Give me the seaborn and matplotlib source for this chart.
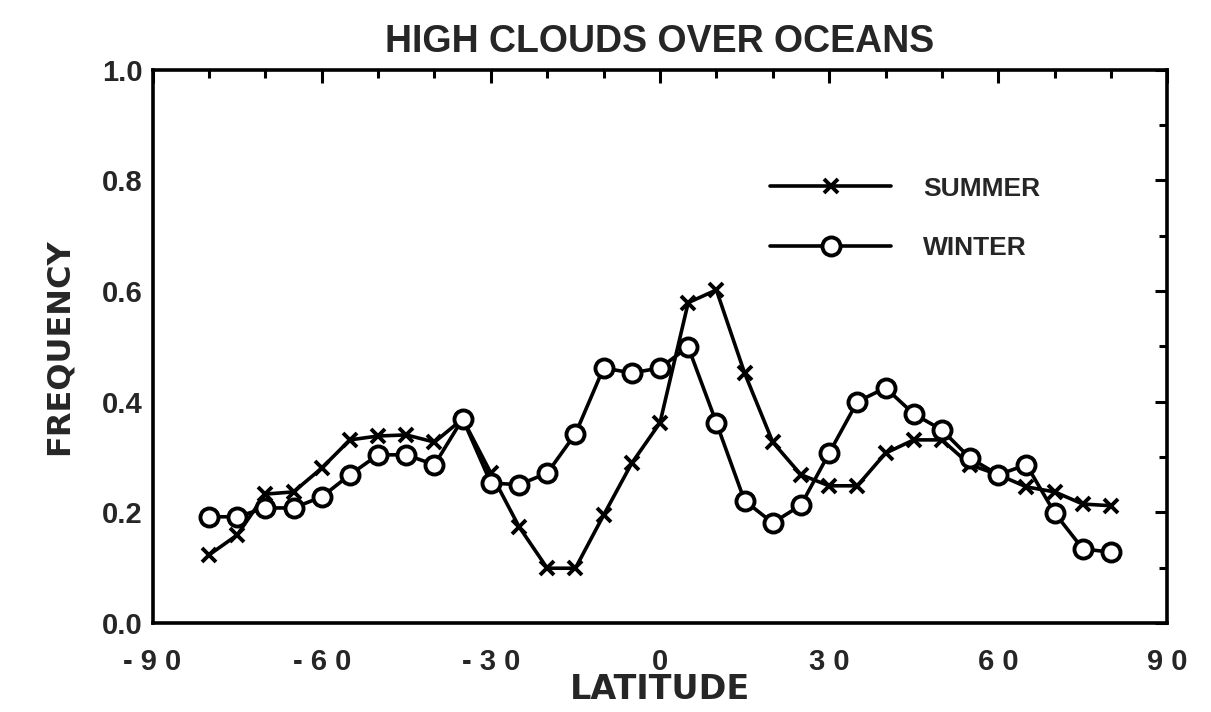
import matplotlib
matplotlib.use("Agg")
import matplotlib.pyplot as plt
import seaborn as sns
import pandas as pd
from matplotlib.ticker import MultipleLocator, FixedLocator

latitude = [-80, -75, -70, -65, -60, -55, -50, -45, -40, -35, -30, -25, -20, -15, -10, -5,
            0, 5, 10, 15, 20, 25, 30, 35, 40, 45, 50, 55, 60, 65, 70, 75, 80]
summer = [0.123, 0.159, 0.233, 0.237, 0.280, 0.331, 0.338, 0.340, 0.327, 0.369, 0.271, 0.174,
          0.099, 0.099, 0.195, 0.289, 0.362, 0.579, 0.602, 0.452, 0.327, 0.268, 0.248, 0.248,
          0.307, 0.331, 0.331, 0.286, 0.268, 0.246, 0.237, 0.215, 0.212]
winter = [0.192, 0.192, 0.208, 0.208, 0.228, 0.268, 0.304, 0.304, 0.286, 0.369, 0.253, 0.250,
          0.271, 0.342, 0.461, 0.452, 0.461, 0.499, 0.362, 0.221, 0.181, 0.213, 0.307, 0.400,
          0.425, 0.378, 0.349, 0.298, 0.268, 0.286, 0.199, 0.134, 0.128]
x_ticks = [-90, -60, -30, 0, 30, 60, 90]
x_tick_labels = ["- 9 0", "- 6 0", "- 3 0", "0", "3 0", "6 0", "9 0"]
y_ticks = [0.0, 0.2, 0.4, 0.6, 0.8, 1.0]
y_tick_labels = ["0.0", "0.2", "0.4", "0.6", "0.8", "1.0"]
series_names = ["SUMMER", "WINTER"]

sns.set_style("white")
plt.rcParams['font.family'] = ['Liberation Sans', 'DejaVu Sans']

df_s = pd.DataFrame({"lat": latitude, "freq": summer})
df_w = pd.DataFrame({"lat": latitude, "freq": winter})

fig = plt.figure(figsize=(12.11, 7.12), dpi=100)
ax = fig.add_axes([0.126, 0.125, 0.838, 0.777])

sns.lineplot(data=df_s, x="lat", y="freq", ax=ax, color="black", linewidth=2.6,
             marker="x", markersize=10, markeredgewidth=2.8, markeredgecolor="black",
             label=series_names[0])
sns.lineplot(data=df_w, x="lat", y="freq", ax=ax, color="black", linewidth=2.6,
             marker="o", markersize=13, markeredgewidth=2.8, markeredgecolor="black",
             markerfacecolor="white", label=series_names[1])

ax.set_xlim(-90, 90)
ax.set_ylim(0, 1.0)
ax.xaxis.set_major_locator(FixedLocator(x_ticks))
ax.set_xticklabels(x_tick_labels)
ax.xaxis.set_minor_locator(MultipleLocator(10))
ax.yaxis.set_major_locator(FixedLocator(y_ticks))
ax.set_yticklabels(y_tick_labels)
ax.yaxis.set_minor_locator(MultipleLocator(0.1))

ax.tick_params(axis="both", which="both", direction="in", top=True, right=True,
               color="black", width=2.2)
ax.tick_params(axis="both", which="major", length=9, labelsize=21)
ax.tick_params(axis="x", which="major", pad=18)
ax.tick_params(axis="y", which="major", pad=7)
ax.tick_params(axis="both", which="minor", length=6)
for lab in ax.get_xticklabels() + ax.get_yticklabels():
    lab.set_fontweight("bold")

for sp in ax.spines.values():
    sp.set_color("black")
    sp.set_linewidth(2.6)

ax.set_xlabel("LATITUDE", fontsize=24, fontweight="bold", labelpad=-2,
              family=["DejaVu Sans"])
ax.set_ylabel("FREQUENCY", fontsize=23, fontweight="bold", labelpad=20,
              family=["DejaVu Sans"])
ax.set_title("HIGH CLOUDS OVER OCEANS", fontsize=27, fontweight="bold", pad=13)

leg = ax.legend(loc="upper left", bbox_to_anchor=(0.585, 0.85), frameon=False,
                prop={"size": 19, "weight": "bold"}, handlelength=4.6,
                handletextpad=1.2, labelspacing=1.35, numpoints=1)
fig.savefig("out.png", dpi=100, facecolor="white")
